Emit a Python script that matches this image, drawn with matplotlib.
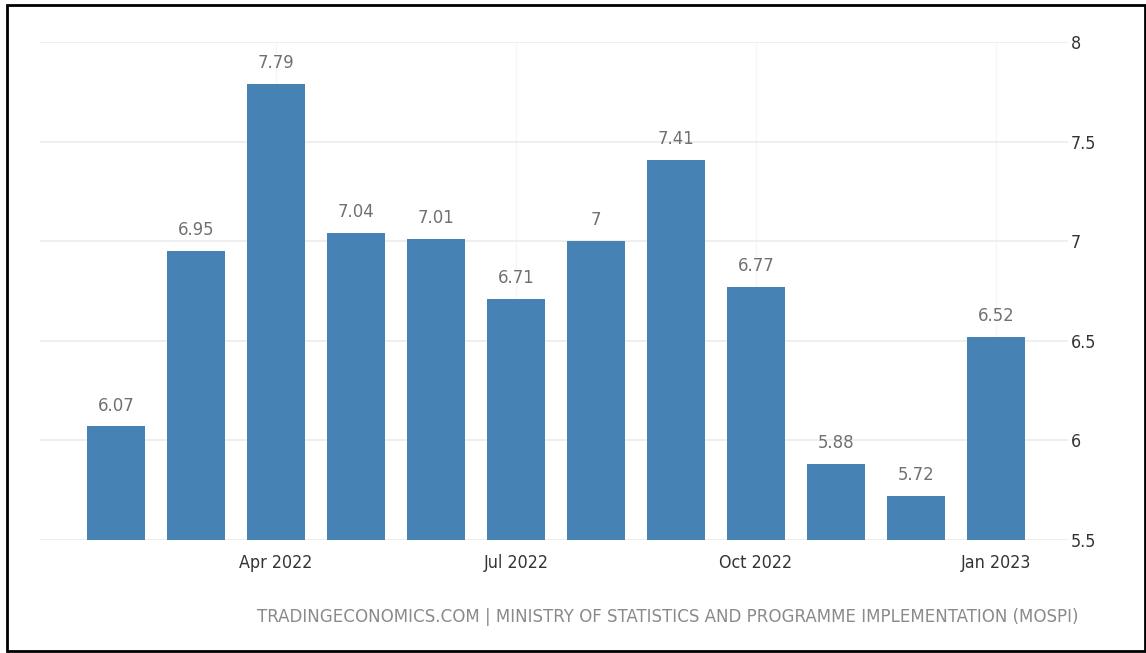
import matplotlib.pyplot as plt
from matplotlib.patches import Rectangle

# India inflation rate, Feb 2022 - Jan 2023
months = ['Feb 2022', 'Mar 2022', 'Apr 2022', 'May 2022', 'Jun 2022', 'Jul 2022',
          'Aug 2022', 'Sep 2022', 'Oct 2022', 'Nov 2022', 'Dec 2022', 'Jan 2023']
values = [6.07, 6.95, 7.79, 7.04, 7.01, 6.71, 7.0, 7.41, 6.77, 5.88, 5.72, 6.52]
value_labels = ['6.07', '6.95', '7.79', '7.04', '7.01', '6.71', '7', '7.41', '6.77', '5.88', '5.72', '6.52']
shown_ticks = ['Apr 2022', 'Jul 2022', 'Oct 2022', 'Jan 2023']
y_ticks = [5.5, 6, 6.5, 7, 7.5, 8]
y_tick_labels = ['5.5', '6', '6.5', '7', '7.5', '8']
source = 'TRADINGECONOMICS.COM | MINISTRY OF STATISTICS AND PROGRAMME IMPLEMENTATION (MOSPI)'

plt.rcParams['font.family'] = ['DejaVu Sans']

fig = plt.figure(figsize=(11.46, 6.53), dpi=100)
ax = fig.add_axes([40 / 1146, 1 - 540 / 653, (1068 - 40) / 1146, (540 - 42) / 653])

x = list(range(len(months)))
ax.bar(x, [v - 5.5 for v in values], bottom=5.5, width=0.725, color='#4682b4', zorder=3)

for xi, v, lab in zip(x, values, value_labels):
    ax.text(xi, v + 0.06, lab, ha='center', va='bottom', fontsize=13.2,
            color='#707070', fontstretch='condensed', zorder=4)

ax.set_xlim(-0.95, 11.9)
ax.set_ylim(5.5, 8)

tick_pos = [months.index(m) for m in shown_ticks]
ax.set_xticks(tick_pos)
ax.set_xticklabels(shown_ticks, fontsize=12.8, color='#333333', fontstretch='condensed')
ax.set_yticks(y_ticks)
ax.set_yticklabels(y_tick_labels, fontsize=12.8, color='#333333', fontstretch='condensed')
ax.yaxis.tick_right()
ax.tick_params(axis='both', length=0)
ax.tick_params(axis='y', pad=2)
ax.tick_params(axis='x', pad=10)

ax.grid(axis='y', color='#ececec', linewidth=1.2, zorder=0)
ax.grid(axis='x', color='#f6f6f6', linewidth=1, zorder=0)
for s in ax.spines.values():
    s.set_visible(False)

fig.text(668 / 1146, 1 - 617 / 653, source, ha='center', va='center', fontsize=13.3,
         color='#8a8a8a', fontstretch='condensed')

# black frame around the image
fig.patches.append(Rectangle((7 / 1146, 2 / 653), 1 - 8 / 1146, 1 - 7 / 653,
                             transform=fig.transFigure, fill=False,
                             edgecolor='black', linewidth=2))

fig.savefig('out.png', dpi=100)
